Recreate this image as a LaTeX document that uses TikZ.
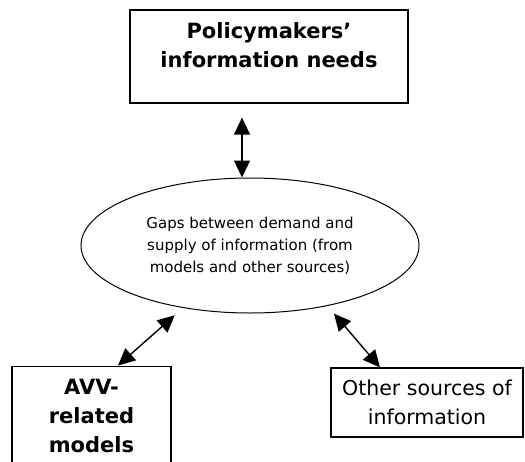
\documentclass[tikz,border=0pt]{standalone}
\usepackage{fontspec}
\setmainfont{DejaVu Sans}
\usetikzlibrary{arrows.meta,shapes.geometric}
\tikzset{
	box/.style={draw, line width=1.2pt, align=center, inner sep=0pt},
	bigtext/.style={font=\fontsize{21}{29}\selectfont\bfseries},
	link/.style={{Triangle[length=17pt,width=16pt]}-{Triangle[length=17pt,width=16pt]}, line width=1.4pt},
}

\begin{document}
\begin{tikzpicture}[x=1pt, y=-1pt]
	\path[use as bounding box, clip] (0, 0) rectangle (525, 461);
	\node[box, bigtext, minimum width=278pt, minimum height=93pt, text height=45pt, text depth=24pt] (N) at (269, 56.5) {Policymakers’\\information needs};
	\node[ellipse, draw, line width=1pt, minimum width=338pt, minimum height=135pt, inner sep=0pt, align=center, font=\fontsize{15}{22}\selectfont] (G) at (250, 245.5) {Gaps between demand and\\supply of information (from\\models and other sources)};
	\node[box, bigtext, anchor=north, minimum width=159pt, minimum height=120pt, text height=74pt, text depth=21pt] (M) at (91.5, 365.5) {AVV-\\related\\models};
	\node[box, font=\fontsize{20.5}{29}\selectfont, minimum width=192pt, minimum height=69pt] (S) at (427, 402.5) {Other sources of\\information};
	\draw[link, shorten <=14pt] ([xshift=-27pt]N.south) -- ([xshift=-27pt]N.south |- G.north);
	\draw[link, shorten >=11pt] ([xshift=26.5pt]M.north) -- (G.223);
	\draw[link, shorten <=10pt] (G.322) -- ([xshift=-47pt]S.north);
\end{tikzpicture}
\end{document}
